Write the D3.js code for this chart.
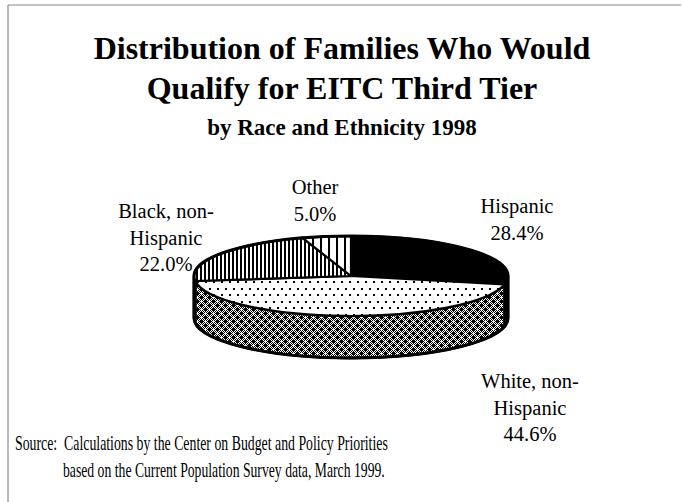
<!DOCTYPE html>
<html><head><meta charset="utf-8">
<script src="https://cdn.jsdelivr.net/npm/d3@7/dist/d3.min.js"></script>
<style>body{margin:0;background:#fff}svg{display:block}</style>
</head><body>
<svg id="c" width="682" height="502"></svg>
<script>
// ---- data ----
const categories = ["Hispanic", "White, non-Hispanic", "Black, non-Hispanic", "Other"];
const values = [28.4, 44.6, 22.0, 5.0];
const labelLines = [
  ["Hispanic", "28.4%"],
  ["White, non-", "Hispanic", "44.6%"],
  ["Black, non-", "Hispanic", "22.0%"],
  ["Other", "5.0%"]
];
const titleLines = ["Distribution of Families Who Would", "Qualify for EITC Third Tier", "by Race and Ethnicity 1998"];
const sourceLines = ["Source:  Calculations by the Center on Budget and Policy Priorities",
                     "based on the Current Population Survey data, March 1999."];

// ---- layout ----
const W = 682, H = 502;
const cx = 351, cy = 276, rx = 157, ry = 40, depth = 42;
const topFill = ["#000", "url(#dots)", "url(#stripeFine)", "url(#stripeWide)"];
const sideFill = ["#000", "url(#hatch)", "url(#stripeFine)", "url(#stripeWide)"];
const labelPos = [
  {x: 517, y: 213}, {x: 530, y: 388}, {x: 166, y: 218}, {x: 315, y: 194}
];
const labelLH = 26.5;

const svg = d3.select("#c");
svg.append("rect").attr("width", W).attr("height", H).attr("fill", "#fff");

// ---- patterns ----
const defs = svg.append("defs");
function pat(id, w, h) {
  const p = defs.append("pattern").attr("id", id).attr("patternUnits", "userSpaceOnUse")
    .attr("width", w).attr("height", h);
  p.append("rect").attr("width", w).attr("height", h).attr("fill", "#fff");
  return p;
}
let p = pat("dots", 8, 13);
[[1, 2], [5, 8]].forEach(d => p.append("rect").attr("x", d[0]).attr("y", d[1]).attr("width", 2).attr("height", 2).attr("fill", "#000"));
p = pat("stripeFine", 4, 4);
p.append("rect").attr("x", 0).attr("y", 0).attr("width", 2).attr("height", 4).attr("fill", "#000");
p = pat("stripeWide", 8, 4);
p.append("rect").attr("x", 0).attr("y", 0).attr("width", 2).attr("height", 4).attr("fill", "#000");
p = pat("hatch", 8, 8);
for (let i = 0; i < 8; i++) for (let j = 0; j < 8; j++) {
  if ((i + j) % 2 === 0) p.append("rect").attr("x", i).attr("y", j).attr("width", 1).attr("height", 1).attr("fill", "#000");
}
[[1, 1], [5, 5]].forEach(d => {
  p.append("rect").attr("x", d[0] - 1).attr("y", d[1]).attr("width", 3).attr("height", 1).attr("fill", "#000");
  p.append("rect").attr("x", d[0]).attr("y", d[1] - 1).attr("width", 1).attr("height", 3).attr("fill", "#000");
  p.append("rect").attr("x", d[0]).attr("y", d[1]).attr("width", 2).attr("height", 2).attr("fill", "#000");
});
[[5, 1], [1, 5]].forEach(d => {
  p.append("rect").attr("x", d[0]).attr("y", d[1]).attr("width", 1).attr("height", 1).attr("fill", "#fff");
});

// ---- frame ----
svg.append("line").attr("x1", 8).attr("y1", 5).attr("x2", 681).attr("y2", 5).attr("stroke", "#888").attr("stroke-width", 1);
svg.append("line").attr("x1", 8).attr("y1", 5).attr("x2", 8).attr("y2", H).attr("stroke", "#777").attr("stroke-width", 1);

// ---- title ----
const titleSizes = [32, 32, 23], titleY = [59, 99, 135];
svg.selectAll("text.title").data(titleLines).join("text").attr("class", "title")
  .attr("x", 342).attr("y", (d, i) => titleY[i])
  .attr("text-anchor", "middle").attr("font-family", "'Liberation Serif', 'Times New Roman', serif")
  .attr("font-weight", "bold").attr("font-size", (d, i) => titleSizes[i]).attr("fill", "#000").text(d => d);

// ---- 3D pie ----
const pie = d3.pie().sort(null).startAngle(0).endAngle(2 * Math.PI).value(d => d);
const arcs = pie(values);
const pt = (a, dy = 0) => [cx + rx * Math.sin(a), cy - ry * Math.cos(a) + dy];

const g = svg.append("g");
// side walls (front half: PI/2 .. 3PI/2)
arcs.forEach((a, i) => {
  const s0 = Math.max(a.startAngle, Math.PI / 2), s1 = Math.min(a.endAngle, 3 * Math.PI / 2);
  if (s1 <= s0) return;
  const p0 = pt(s0), p1 = pt(s1), q1 = pt(s1, depth), q0 = pt(s0, depth);
  const d = `M${p0}A${rx},${ry} 0 0 1 ${p1}L${q1}A${rx},${ry} 0 0 0 ${q0}Z`;
  g.append("path").attr("d", d).attr("fill", sideFill[i]).attr("stroke", "#000")
    .attr("stroke-width", 2.5).attr("stroke-linejoin", "round");
});
// top faces
arcs.forEach((a, i) => {
  const p0 = pt(a.startAngle), p1 = pt(a.endAngle);
  const large = (a.endAngle - a.startAngle) > Math.PI ? 1 : 0;
  const d = `M${cx},${cy}L${p0}A${rx},${ry} 0 ${large} 1 ${p1}Z`;
  g.append("path").attr("d", d).attr("fill", topFill[i]).attr("stroke", "#000")
    .attr("stroke-width", 2.2).attr("stroke-linejoin", "round");
});
// outer outline
g.append("path")
  .attr("d", `M${pt(Math.PI/2)}A${rx},${ry} 0 1 0 ${pt(3*Math.PI/2)}L${pt(3*Math.PI/2, depth)}A${rx},${ry} 0 0 0 ${pt(Math.PI/2, depth)}Z`)
  .attr("fill", "none").attr("stroke", "#000").attr("stroke-width", 3);

// ---- labels (one text element per line) ----
labelLines.forEach((lines, i) => {
  lines.forEach((s, k) => {
    svg.append("text").attr("text-anchor", "middle")
      .attr("font-family", "'Liberation Serif', 'Times New Roman', serif").attr("font-size", 20.5)
      .attr("fill", "#000")
      .attr("x", labelPos[i].x).attr("y", labelPos[i].y + k * labelLH).text(s);
  });
});

// ---- source (condensed via horizontal scale) ----
const srcX = [15, 63], srcY = [450, 477], srcLen = [373, 322];
sourceLines.forEach((s, i) => {
  const t = svg.append("text").attr("x", 0).attr("y", 0)
    .attr("font-family", "'Liberation Serif', 'Times New Roman', serif").attr("font-size", 21)
    .style("white-space", "pre").attr("fill", "#000").text(s);
  const w = t.node().getComputedTextLength();
  t.attr("transform", `translate(${srcX[i]},${srcY[i]}) scale(${srcLen[i] / w},1)`);
});
</script>
</body></html>
